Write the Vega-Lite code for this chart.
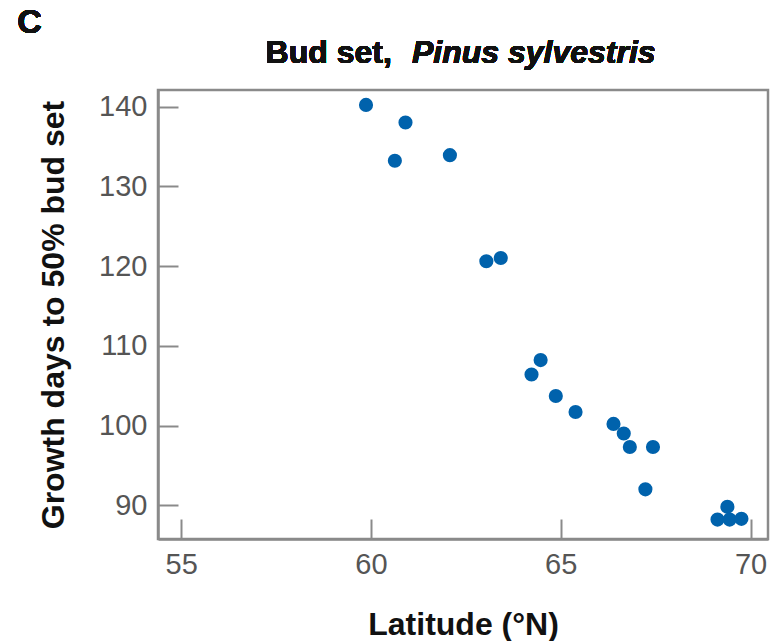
{
  "$schema": "https://vega.github.io/schema/vega-lite/v6.json",
  "autosize": "none",
  "width": 610,
  "height": 449,
  "padding": {"left": 158, "top": 90, "right": 4, "bottom": 102},
  "background": "white",
  "config": {
    "font": "Liberation Sans",
    "view": {"stroke": "#8a8a8a", "strokeWidth": 2.5},
    "axis": {
      "grid": false,
      "domainColor": "#8a8a8a",
      "domainWidth": 2.5,
      "tickColor": "#8a8a8a",
      "tickWidth": 2,
      "tickSize": -20,
      "labelFont": "Liberation Sans",
      "labelFontSize": 29,
      "labelColor": "#555555",
      "titleFont": "Liberation Sans",
      "titleFontSize": 32,
      "titleFontWeight": "bold",
      "titleColor": "#111111"
    }
  },
  "data": {
    "values": [
      {"lat": 59.87, "days": 140.2},
      {"lat": 60.63, "days": 133.2},
      {"lat": 60.91, "days": 138.0},
      {"lat": 62.08, "days": 133.9},
      {"lat": 63.04, "days": 120.6},
      {"lat": 63.42, "days": 121.0},
      {"lat": 64.23, "days": 106.4},
      {"lat": 64.47, "days": 108.2},
      {"lat": 64.87, "days": 103.7},
      {"lat": 65.39, "days": 101.7},
      {"lat": 66.39, "days": 100.2},
      {"lat": 66.66, "days": 99.0},
      {"lat": 66.82, "days": 97.3},
      {"lat": 67.43, "days": 97.3},
      {"lat": 67.23, "days": 92.0},
      {"lat": 69.13, "days": 88.2},
      {"lat": 69.39, "days": 89.8},
      {"lat": 69.45, "days": 88.2},
      {"lat": 69.76, "days": 88.3}
    ]
  },
  "layer": [
    {
      "mark": {"type": "point", "filled": true, "opacity": 1, "size": 200, "color": "#0062AC"},
      "encoding": {
        "x": {
          "field": "lat", "type": "quantitative",
          "scale": {"domain": [54.39, 70.46], "nice": false, "zero": false},
          "axis": {"values": [55, 60, 65, 70], "title": "Latitude (°N)", "labelPadding": 31, "titlePadding": 30}
        },
        "y": {
          "field": "days", "type": "quantitative",
          "scale": {"domain": [85.77, 142.07], "nice": false, "zero": false},
          "axis": {"values": [90, 100, 110, 120, 130, 140], "title": "Growth days to 50% bud set", "labelPadding": 31, "titlePadding": 28}
        }
      }
    },
    {
      "mark": {"type": "text", "text": "C", "align": "left", "baseline": "alphabetic", "fontSize": 34, "fontWeight": "bold", "color": "#111111"},
      "encoding": {"x": {"datum": 50.68}, "y": {"datum": 149.22}}
    },
    {
      "mark": {"type": "text", "text": "Bud set,", "align": "right", "baseline": "alphabetic", "fontSize": 32, "fontWeight": "bold", "color": "#111111"},
      "encoding": {"x": {"datum": 60.55}, "y": {"datum": 145.46}}
    },
    {
      "mark": {"type": "text", "text": "Pinus sylvestris", "align": "left", "baseline": "alphabetic", "fontSize": 32, "fontWeight": "bold", "fontStyle": "italic", "color": "#111111"},
      "encoding": {"x": {"datum": 61.08}, "y": {"datum": 145.46}}
    }
  ]
}
